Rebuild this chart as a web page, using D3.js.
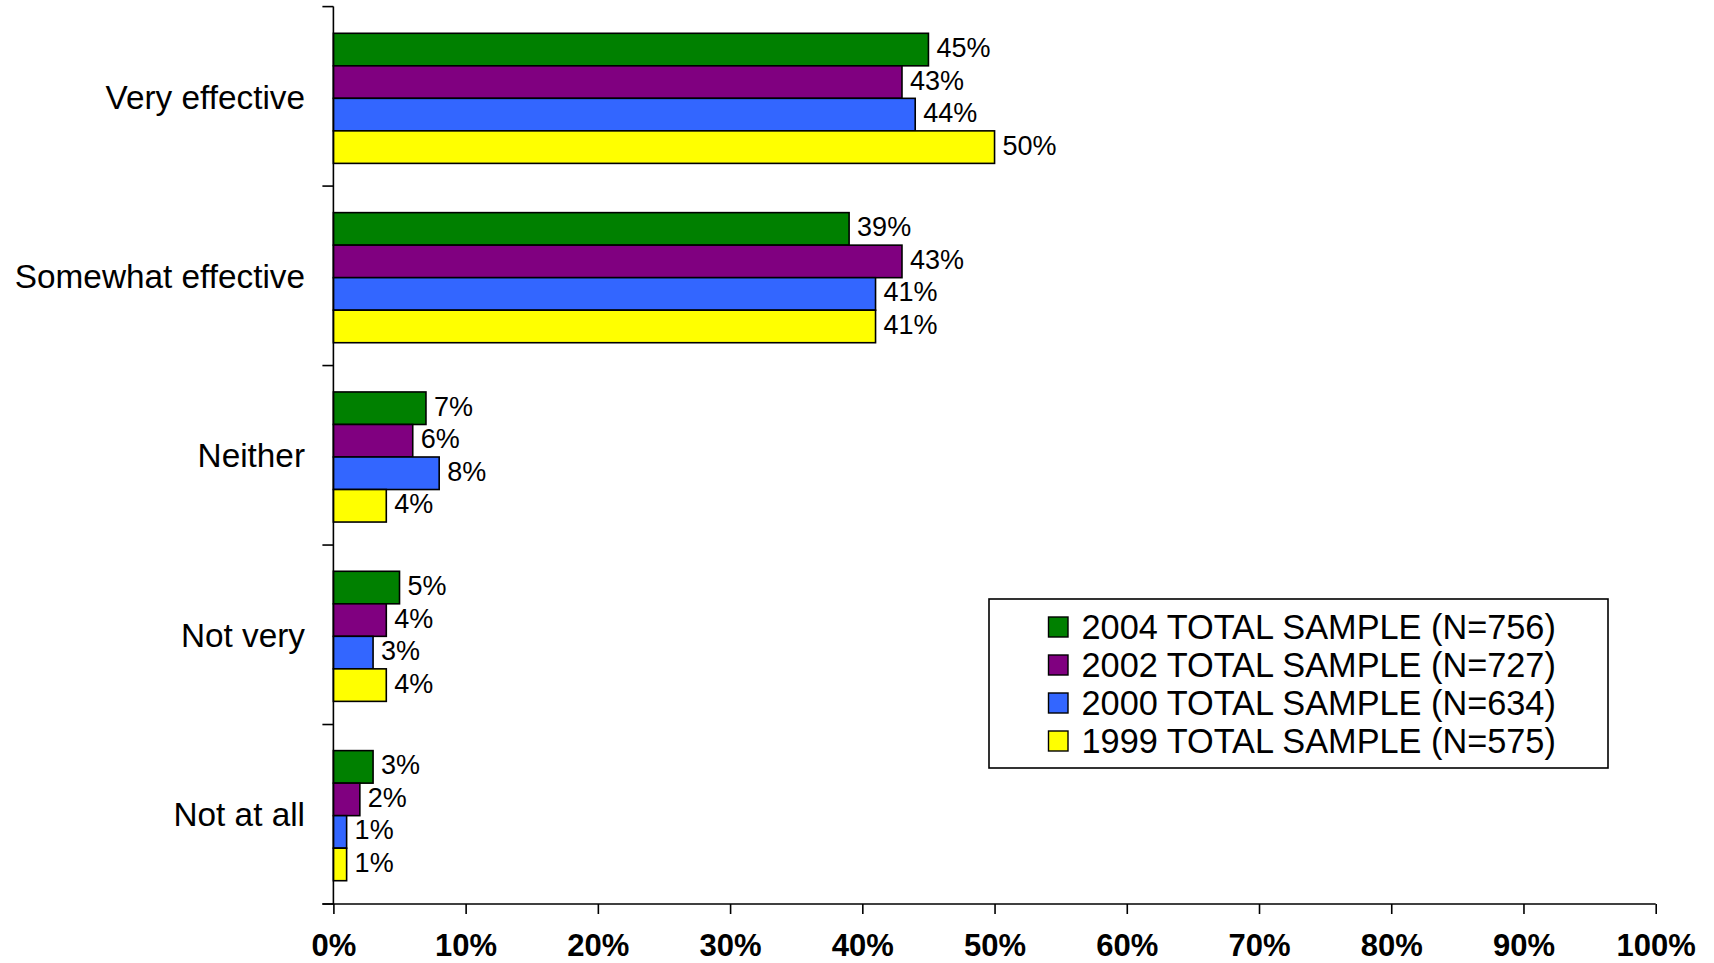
<!DOCTYPE html>
<html>
<head>
<meta charset="utf-8">
<script src="https://cdn.jsdelivr.net/npm/d3@7"></script>
<style>
  html, body { margin: 0; padding: 0; background: #fff; }
  svg { display: block; }
  text { font-family: "Liberation Sans", Arial, sans-serif; fill: #000; }
</style>
</head>
<body>
<svg id="chart" width="1714" height="963"></svg>
<script>
const categories = ["Very effective", "Somewhat effective", "Neither", "Not very", "Not at all"];
const seriesNames = ["2004 TOTAL SAMPLE (N=756)", "2002 TOTAL SAMPLE (N=727)", "2000 TOTAL SAMPLE (N=634)", "1999 TOTAL SAMPLE (N=575)"];
const seriesColors = ["#008000", "#800080", "#3366FF", "#FFFF00"];
const values2004 = [45, 39, 7, 5, 3];
const values2002 = [43, 43, 6, 4, 2];
const values2000 = [44, 41, 8, 3, 1];
const values1999 = [50, 41, 4, 4, 1];
const xTicks = [0, 10, 20, 30, 40, 50, 60, 70, 80, 90, 100];

const seriesValues = [values2004, values2002, values2000, values1999];

const svg = d3.select("#chart");
const plotLeft = 333.4, plotRight = 1655.7, plotTop = 6.6, plotBottom = 904;

const x = d3.scaleLinear().domain([0, 100]).range([plotLeft, plotRight]);
const y = d3.scaleBand().domain(categories).range([33.3, 880.7])
  .paddingInner(0.2746).paddingOuter(0);
const ySub = d3.scaleBand().domain(d3.range(seriesNames.length)).range([0, y.bandwidth()]);
const yEdge = d3.scaleLinear().domain([0, categories.length]).range([plotTop, plotBottom]);

// bars
const groups = svg.append("g").selectAll("g")
  .data(categories).join("g")
  .attr("transform", d => `translate(0,${y(d)})`);

groups.each(function(cat, ci) {
  const g = d3.select(this);
  seriesValues.forEach((vals, si) => {
    const v = vals[ci];
    g.append("rect")
      .attr("x", x(0))
      .attr("y", ySub(si))
      .attr("width", x(v) - x(0))
      .attr("height", ySub.bandwidth())
      .attr("fill", seriesColors[si])
      .attr("stroke", "#000")
      .attr("stroke-width", 1.6);
    g.append("text")
      .attr("x", x(v) + 8)
      .attr("y", ySub(si) + ySub.bandwidth() / 2)
      .attr("dy", "0.28em")
      .attr("font-size", 27)
      .text(v + "%");
  });
});

// y axis line and boundary ticks
const axisG = svg.append("g").attr("stroke", "#000").attr("stroke-width", 1.6);
axisG.append("line").attr("x1", plotLeft).attr("x2", plotLeft).attr("y1", plotTop).attr("y2", plotBottom);
const boundaries = d3.range(categories.length + 1).map(i => yEdge(i));
axisG.selectAll("line.bt").data(boundaries).join("line")
  .attr("class", "bt")
  .attr("x1", plotLeft - 11).attr("x2", plotLeft)
  .attr("y1", d => d).attr("y2", d => d);

// category labels
svg.append("g").selectAll("text")
  .data(categories).join("text")
  .attr("x", 305)
  .attr("y", d => y(d) + y.bandwidth() / 2)
  .attr("dy", "0.3em")
  .attr("text-anchor", "end")
  .attr("font-size", 34)
  .attr("transform", "translate(305,0) scale(0.98,1) translate(-305,0)")
  .text(d => d);

// x axis
const xAxis = d3.axisBottom(x).tickValues(xTicks).tickSize(10).tickPadding(20)
  .tickFormat(d => d + "%");
const xg = svg.append("g").attr("transform", `translate(0,${plotBottom})`).call(xAxis);
xg.select(".domain").attr("stroke", "#000").attr("stroke-width", 1.6)
  .attr("d", `M${plotLeft - 11},0H${plotRight}`);
xg.selectAll(".tick line").attr("stroke", "#000").attr("stroke-width", 1.6);
xg.selectAll(".tick text")
  .attr("font-family", "'Liberation Sans Narrow', 'Arial Narrow', 'Liberation Sans', sans-serif")
  .attr("font-weight", "bold")
  .attr("font-size", 31)
  .attr("fill", "#000");

// legend
const legend = svg.append("g");
legend.append("rect")
  .attr("x", 989).attr("y", 599).attr("width", 619).attr("height", 169)
  .attr("fill", "#fff").attr("stroke", "#000").attr("stroke-width", 1.6);
const legRows = legend.selectAll("g.row").data(seriesNames).join("g")
  .attr("class", "row")
  .attr("transform", (d, i) => `translate(0,${638.5 + i * 38})`);
legRows.append("rect")
  .attr("x", 1048.5).attr("y", -21.5).attr("width", 19.5).attr("height", 20)
  .attr("fill", (d, i) => seriesColors[i])
  .attr("stroke", "#000").attr("stroke-width", 1.4);
legRows.append("text")
  .attr("x", 1081.5).attr("y", 0)
  .attr("font-size", 34.3)
  .text(d => d);
</script>
</body>
</html>
